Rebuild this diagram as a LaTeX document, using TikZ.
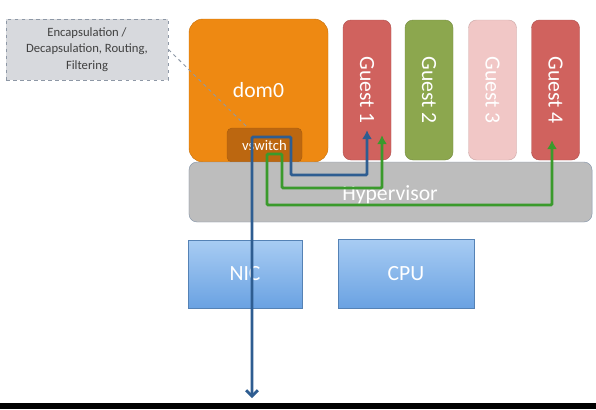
\documentclass[tikz,border=0pt]{standalone}
\usepackage{fontspec}
\setmainfont{Carlito}
\usepackage{xcolor}
\usetikzlibrary{arrows.meta}

\definecolor{domorange}{HTML}{EE8912}
\definecolor{vswbrown}{HTML}{BC6710}
\definecolor{guestred}{HTML}{D0625E}
\definecolor{guestgreen}{HTML}{8CA74E}
\definecolor{guestpink}{HTML}{F1C7C6}
\definecolor{hypgray}{HTML}{BDBDBD}
\definecolor{hypedge}{HTML}{8595AA}
\definecolor{hwtop}{HTML}{A8CCF3}
\definecolor{hwbottom}{HTML}{6AA2E2}
\definecolor{notefill}{HTML}{D7D9DD}
\definecolor{noteedge}{HTML}{8E98A6}
\definecolor{pathblue}{HTML}{2E5D91}
\definecolor{pathgreen}{HTML}{3A9A2C}

\begin{document}
\begin{tikzpicture}[
  x=0.03cm, y=-0.03cm,
  font=\fontsize{18.5}{20}\selectfont,
  box/.style={draw, rounded corners=0.42cm, text=white, inner sep=0pt},
  guest/.style={draw, rounded corners=0.24cm, text=white, inner sep=0pt, rotate=-90, minimum width=4.2cm, minimum height=1.44cm},
  hwbox/.style={draw=hwbottom!80!black, top color=hwtop, bottom color=hwbottom, text=white, inner sep=0pt},
  note/.style={draw=noteedge, dashed, thick, fill=notefill, align=center, text=black!75, font=\fontsize{10.8}{14}\selectfont},
  bluepath/.style={draw=pathblue, line width=2.4pt, rounded corners=1pt},
  greenpath/.style={draw=pathgreen, line width=2.4pt, rounded corners=1pt, {Latex[length=7.5pt,width=8.5pt]}-{Latex[length=7.5pt,width=8.5pt]}},
  dashedline/.style={draw=noteedge, dashed, thick}
]

% page
\fill[white] (0,0) rectangle (596,409);
\useasboundingbox (0,0) rectangle (596,409);
\fill[black] (0,403) rectangle (596,409);

% Left: dom0 with its switch
\node[box, fill=domorange, draw=domorange!85!black, minimum width=4.17cm, minimum height=4.29cm] (dom0) at (258.5,90.5) {dom0};
\node[box, rounded corners=0.15cm, fill=vswbrown, draw=vswbrown!90!black, minimum width=2.25cm, minimum height=1.02cm, font=\fontsize{12.5}{14}\selectfont] (vsw) at (264.5,145) {vswitch};

% Guests (rotated, so .east is the bottom edge)
\foreach \i/\x/\c in {1/367/guestred, 2/429/guestgreen, 3/492.5/guestpink, 4/555.5/guestred}
  \node[guest, fill=\c, draw=\c!85!black] (g\i) at (\x,90) {Guest \i};

% Hypervisor below dom0 and guests
\node[box, rounded corners=0.24cm, fill=hypgray, draw=hypedge, minimum width=12.09cm, minimum height=1.8cm] (hyp) at (390.5,192) {};
\node[text=white] (hyptext) at (390,195) {Hypervisor};

% Hardware
\node[hwbox, minimum width=3.42cm, minimum height=2.04cm] (nic) at (245,274) {NIC};
\node[hwbox, minimum width=4.08cm, minimum height=2.07cm] (cpu) at (406,273.5) {CPU};

% Annotation
\node[note, minimum width=4.86cm, minimum height=1.83cm] (note) at (87,49.5) {Encapsulation /\\Decapsulation, Routing,\\Filtering};
\draw[dashedline] (note.east) -- ([xshift=0.63cm]vsw.north west);

% Traffic: guest 1 out through the NIC
\coordinate (out) at (252,398);
\draw[bluepath, {Straight Barb[length=5pt,width=10pt]}-{Latex[length=7.5pt,width=8.5pt]}] (out) -- (252,137) -- (291,137) -- (291,175) -- (367,175) -- ([yshift=0.9cm]g1.east);

% Traffic: guest 1 to guest 4 through the switch
\draw[greenpath] ([xshift=0.45cm,yshift=0.75cm]g1.east) -- (382,188) -- (282,188) -- (282,154) -- (267,154) -- (267,205) -- (552,205) -- ([xshift=-0.105cm,yshift=0.6cm]g4.east);

\end{tikzpicture}
\end{document}
